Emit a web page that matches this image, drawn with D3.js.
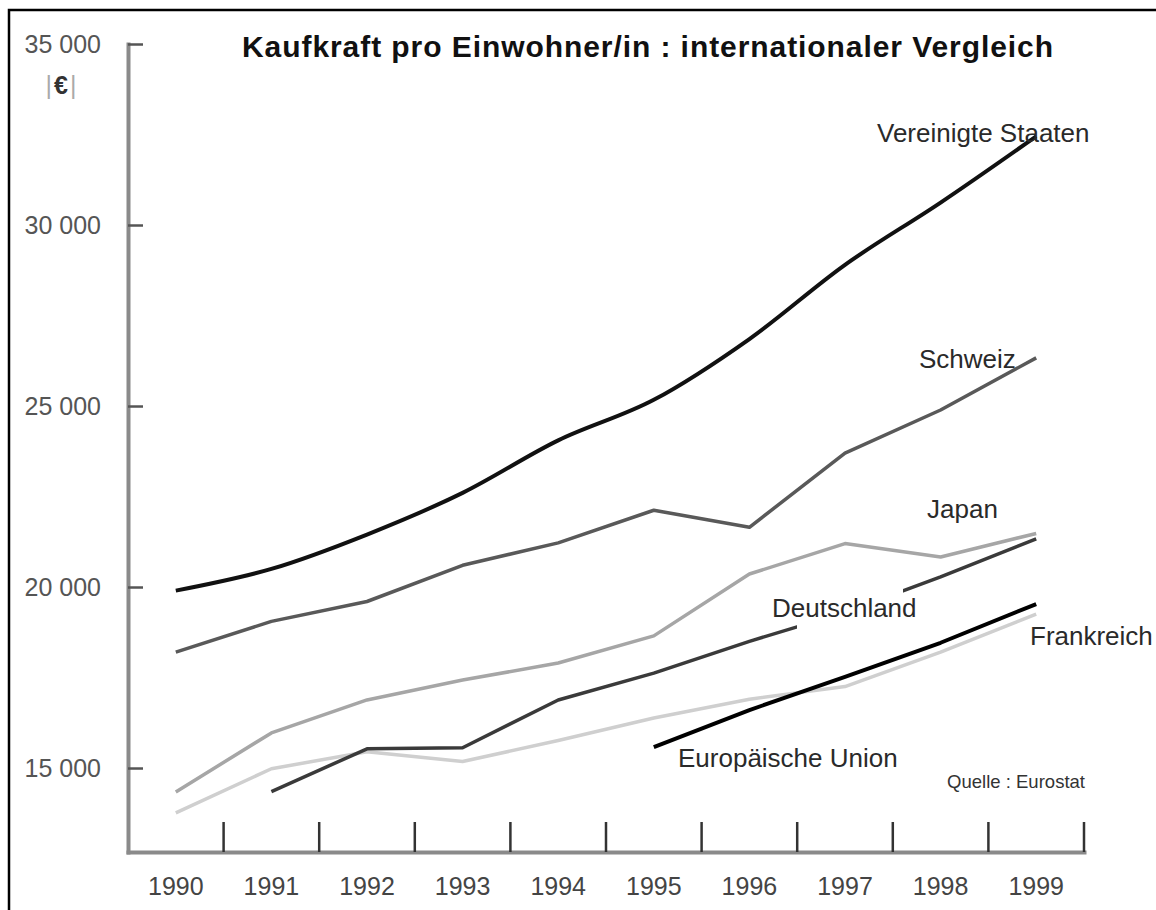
<!DOCTYPE html>
<html>

<head>
    <meta charset="utf-8" />
    <title>Kaufkraft pro Einwohner/in</title>
    <style>
        body { margin: 0; background: #fff; }
        svg { display: block; font-family: "Liberation Sans", Arial, Helvetica, sans-serif; }
    </style>
</head>

<body>
    <svg width="1156" height="910"></svg>
</body>

<script src="https://cdn.jsdelivr.net/npm/d3@7"></script>
<script>

    // Werte in Euro pro Einwohner/in
    var jahre = [1990, 1991, 1992, 1993, 1994, 1995, 1996, 1997, 1998, 1999];
    var vereinigteStaaten = [19900, 20500, 21450, 22600, 24050, 25170, 26850, 28900, 30620, 32450];
    var schweiz = [18200, 19050, 19600, 20600, 21220, 22120, 21650, 23700, 24890, 26330];
    var japan = [14340, 15970, 16880, 17430, 17900, 18650, 20360, 21200, 20830, 21480];
    var deutschland = [null, 14350, 15530, 15560, 16880, 17620, 18500, 19300, 20280, 21330];
    var frankreich = [13760, 14980, 15450, 15180, 15760, 16380, 16900, 17250, 18200, 19250];
    var europaeischeUnion = [null, null, null, null, null, 15580, 16600, 17520, 18460, 19530];
    var yTicks = [15000, 20000, 25000, 30000, 35000];

    var reihen = [
        { name: 'Frankreich', werte: frankreich },
        { name: 'Japan', werte: japan },
        { name: 'Schweiz', werte: schweiz },
        { name: 'Deutschland', werte: deutschland },
        { name: 'Europäische Union', werte: europaeischeUnion },
        { name: 'Vereinigte Staaten', werte: vereinigteStaaten }
    ];

    var stil = {
        'Frankreich': { farbe: '#cfcfcf', breite: 3.5 },
        'Japan': { farbe: '#a6a6a6', breite: 3.5 },
        'Schweiz': { farbe: '#595959', breite: 3.5 },
        'Deutschland': { farbe: '#3a3a3a', breite: 3.5 },
        'Europäische Union': { farbe: '#000', breite: 4 },
        'Vereinigte Staaten': { farbe: '#111', breite: 4 }
    };

    var svg = d3.select('svg');

    // Rahmen (nur links und oben sichtbar)
    svg.append('rect')
        .attr('x', 9).attr('y', 10)
        .attr('width', 1300).attr('height', 1100)
        .attr('fill', 'none')
        .attr('stroke', '#000')
        .attr('stroke-width', 2.5);

    var x = d3.scaleBand().domain(jahre).range([128, 1084]);
    var y = d3.scaleLinear().domain([12680, 35000]).range([852, 44]);
    var mitte = function (j) { return x(j) + x.bandwidth() / 2; };

    var de = d3.formatLocale({ decimal: ',', thousands: ' ', grouping: [3], currency: ['', ' €'] });

    // y-Achse
    var yAchse = svg.append('g')
        .attr('transform', 'translate(128,0)')
        .call(d3.axisLeft(y)
            .tickValues(yTicks)
            .tickFormat(de.format(','))
            .tickSizeInner(-15)
            .tickSizeOuter(0)
            .tickPadding(27));
    yAchse.select('.domain').attr('stroke', '#8a8a8a').attr('stroke-width', 4).attr('stroke-linecap', 'square');
    yAchse.selectAll('.tick line').attr('stroke', '#555').attr('stroke-width', 2.5);
    yAchse.selectAll('.tick text')
        .attr('font-size', 25)
        .attr('font-family', '"Liberation Sans", Arial, sans-serif')
        .attr('fill', '#555');

    // x-Achse
    var xAchse = svg.append('g')
        .attr('transform', 'translate(0,852)')
        .call(d3.axisBottom(x).tickSize(0).tickPadding(25));
    xAchse.select('.domain').attr('stroke', '#8a8a8a').attr('stroke-width', 4).attr('stroke-linecap', 'square');
    xAchse.selectAll('.tick text')
        .attr('font-size', 25)
        .attr('font-family', '"Liberation Sans", Arial, sans-serif')
        .attr('fill', '#444');

    // Striche zwischen den Jahren
    svg.append('g')
        .selectAll('line')
        .data(jahre)
        .enter()
        .append('line')
        .attr('x1', function (j) { return x(j) + x.bandwidth(); })
        .attr('x2', function (j) { return x(j) + x.bandwidth(); })
        .attr('y1', 852)
        .attr('y2', 822)
        .attr('stroke', '#333')
        .attr('stroke-width', 2.5);

    // Linien
    svg.append('g')
        .selectAll('path')
        .data(reihen)
        .enter()
        .append('path')
        .attr('fill', 'none')
        .attr('stroke', function (d) { return stil[d.name].farbe; })
        .attr('stroke-width', function (d) { return stil[d.name].breite; })
        .attr('stroke-linejoin', 'round')
        .attr('d', function (d) {
            var linie = d3.line()
                .defined(function (p) { return p.v != null; })
                .x(function (p) { return mitte(p.j); })
                .y(function (p) { return y(p.v); })
                .curve(d.name === 'Vereinigte Staaten' ? d3.curveMonotoneX : d3.curveLinear);
            return linie(jahre.map(function (j, i) { return { j: j, v: d.werte[i] }; }));
        });

    // Lücke hinter "Deutschland"
    svg.append('rect')
        .attr('x', 797).attr('y', 586)
        .attr('width', 106).attr('height', 48)
        .attr('fill', '#fff');

    // Beschriftungen
    var beschriftung = [
        ['Vereinigte Staaten', 877, 142],
        ['Schweiz', 919, 368],
        ['Japan', 927, 518],
        ['Deutschland', 772, 617],
        ['Frankreich', 1030, 645],
        ['Europäische Union', 678, 767]
    ];
    svg.append('g')
        .selectAll('text')
        .data(beschriftung)
        .enter()
        .append('text')
        .attr('x', function (d) { return d[1]; })
        .attr('y', function (d) { return d[2]; })
        .attr('font-size', 26)
        .attr('fill', '#2a2a2a')
        .text(function (d) { return d[0]; });

    // Titel
    svg.append('text')
        .attr('x', 242).attr('y', 57)
        .attr('font-size', 30)
        .attr('font-weight', 'bold')
        .attr('fill', '#111')
        .attr('textLength', 811)
        .attr('lengthAdjust', 'spacing')
        .text('Kaufkraft pro Einwohner/in : internationaler Vergleich');

    // Einheit
    var einheit = svg.append('text')
        .attr('x', 62).attr('y', 94)
        .attr('text-anchor', 'middle')
        .attr('font-size', 25)
        .attr('letter-spacing', 2);
    einheit.append('tspan').attr('fill', '#aaa').text('|');
    einheit.append('tspan').attr('fill', '#333').attr('font-weight', 'bold').text('€');
    einheit.append('tspan').attr('fill', '#aaa').text('|');

    // Quelle
    svg.append('text')
        .attr('x', 947).attr('y', 788)
        .attr('font-size', 19)
        .attr('fill', '#333')
        .attr('textLength', 138)
        .attr('lengthAdjust', 'spacingAndGlyphs')
        .text('Quelle : Eurostat');

</script>

</html>
